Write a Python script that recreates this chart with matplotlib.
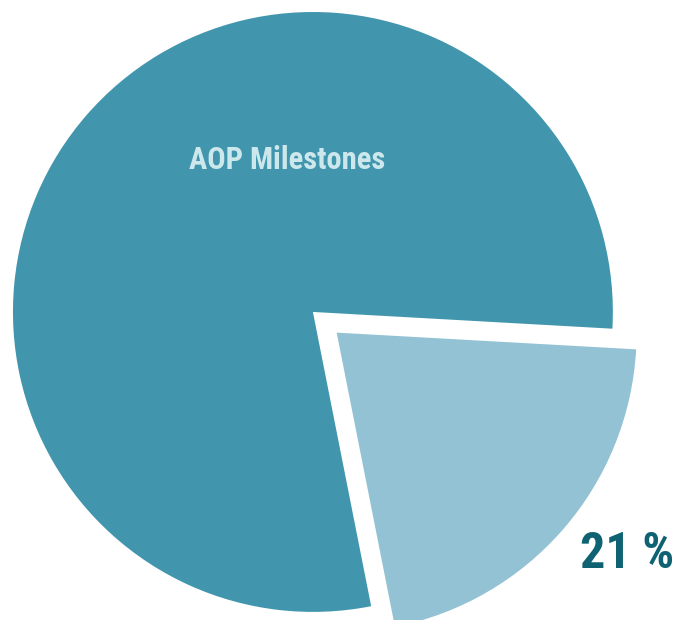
import matplotlib
matplotlib.use('Agg')
import matplotlib.pyplot as plt

# ==========================================
# DATA
# ==========================================
labels = ['AOP Milestones', 'Other']
values = [79, 21]
colors = ['#4196AE', '#93C2D4']
explode = [0, 0.105]

# ==========================================
# PLOT
# ==========================================
fig = plt.figure(figsize=(6.75, 6.2), dpi=100)
ax = fig.add_axes([0, 0, 1, 1])

ax.pie(values, colors=colors, explode=explode, startangle=-3.2,
       radius=1.0, wedgeprops={'linewidth': 0})

ax.set_xlim(-1.043, 1.207)
ax.set_ylim(-1.027, 1.04)
ax.set_aspect('equal')
ax.axis('off')

narrow = ['Roboto Condensed', 'Liberation Sans', 'DejaVu Sans']
ax.text(-0.087, 0.507, labels[0], ha='center', va='center', fontsize=22,
        fontweight='bold', color='#CDE8EC', family=narrow)
ax.text(1.047, -0.81, f'{values[1]} %', ha='center', va='center', fontsize=36,
        fontweight='bold', color='#0F6272', family=narrow)

fig.savefig('out.png', dpi=100, facecolor='white')
